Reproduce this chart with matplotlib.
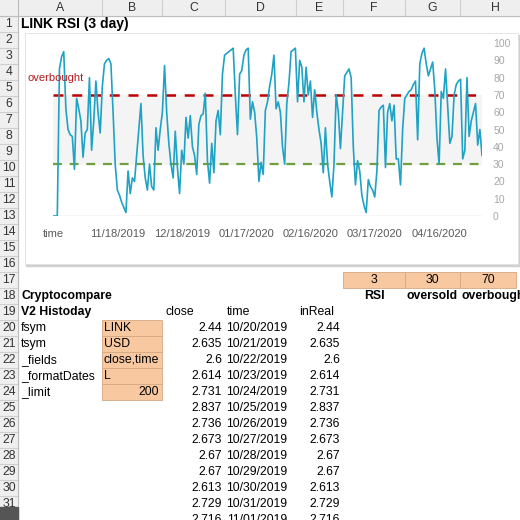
import numpy as np
import pandas as pd
import matplotlib
matplotlib.use("Agg")
import matplotlib.pyplot as plt
from matplotlib.patches import Rectangle

plt.rcParams['font.family'] = ['Liberation Sans', 'DejaVu Sans']

# --- data ---
rsi = [0, 0, 0, 85, 92, 95, 62, 50, 47, 46, 27, 68, 62, 55, 34, 48, 50, 80, 38, 55,
       78, 60, 48, 75, 88, 90, 91, 88, 60, 30, 15, 12, 8, 5, 2, 26, 13, 22, 20, 35,
       50, 65, 35, 22, 15, 30, 17, 15, 51, 38, 50, 60, 87, 60, 42, 30, 22, 49, 28, 13,
       38, 30, 57, 45, 58, 40, 35, 24, 53, 58, 59, 71, 32, 19, 42, 25, 55, 61, 47, 82,
       93, 94, 95, 96, 97, 70, 47, 82, 84, 93, 96, 97, 56, 66, 60, 45, 20, 31, 24, 61,
       66, 75, 82, 93, 62, 66, 60, 40, 30, 65, 77, 95, 96, 97, 66, 90, 86, 66, 86, 70,
       78, 57, 73, 60, 50, 42, 25, 51, 30, 20, 11, 30, 70, 60, 39, 60, 81, 83, 85, 80,
       40, 18, 32, 26, 12, 6, 2, 21, 17, 15, 11, 26, 61, 63, 64, 28, 60, 65, 55, 64,
       33, 33, 18, 50, 68, 70, 72, 73, 76, 78, 44, 88, 94, 97, 88, 81, 85, 89, 73, 45,
       30, 72, 68, 85, 63, 42, 46, 70, 76, 78, 79, 33, 38, 80, 46, 55, 60, 65, 41, 50, 35]
dates = pd.date_range("2019-10-20", periods=200, freq="D").strftime("%m/%d/%Y").tolist()
categories = ["time"] + dates
closes = [2.44, 2.635, 2.6, 2.614, 2.731, 2.837, 2.736, 2.673, 2.67, 2.67, 2.613, 2.729, 2.716]
close_dates = ["10/20/2019", "10/21/2019", "10/22/2019", "10/23/2019", "10/24/2019",
               "10/25/2019", "10/26/2019", "10/27/2019", "10/28/2019", "10/29/2019",
               "10/30/2019", "10/31/2019", "11/01/2019"]
params = [("fsym", "LINK"), ("tsym", "USD"), ("_fields", "close,time"),
          ("_formatDates", "L"), ("_limit", "200")]
thresholds = [("3", "RSI"), ("30", "oversold"), ("70", "overbought")]
oversold, overbought = 30, 70

W = H = 520
fig = plt.figure(figsize=(5.2, 5.2), dpi=100)
sheet = fig.add_axes([0, 0, 1, 1])
sheet.set_xlim(0, W)
sheet.set_ylim(H, 0)
sheet.axis('off')

col_edges = [18, 102, 162, 225, 296, 343, 405, 460, 530]
col_names = list("ABCDEFGH")
grid_c = '#cfcfcf'
orange = '#f8c8a0'
fs = 8.8

def cy(r):
    return 16 * r + 8

# headers (only the header bands show grid lines)
sheet.add_patch(Rectangle((0, 0), W, 16, color='#efefef', zorder=0))
sheet.add_patch(Rectangle((0, 0), 18, H, color='#efefef', zorder=0))
for x in col_edges:
    sheet.plot([x, x], [0, 16], color=grid_c, lw=0.8, zorder=1)
for r in range(1, 34):
    sheet.plot([0, 18], [16 * r, 16 * r], color=grid_c, lw=0.8, zorder=1)
for i, n in enumerate(col_names):
    sheet.text((col_edges[i] + col_edges[i + 1]) / 2, 8, n, ha='center', va='center', fontsize=fs, color='#333333')
for r in range(1, 33):
    sheet.text(9, cy(r), str(r), ha='center', va='center', fontsize=fs, color='#333333')
sheet.plot([18, 18], [0, H], color='#bdbdbd', lw=0.8)
sheet.plot([0, W], [16, 16], color='#bdbdbd', lw=0.8)

sheet.text(21, cy(1), "LINK RSI (3 day)", fontsize=10, fontweight='bold', va='center', zorder=2)

# spreadsheet cells
sheet.text(21, cy(18), "Cryptocompare", fontsize=fs, fontweight='bold', va='center')
sheet.text(21, cy(19), "V2 Histoday", fontsize=fs, fontweight='bold', va='center')
sheet.text(165, cy(19), "close", fontsize=fs, va='center')
sheet.text(227, cy(19), "time", fontsize=fs, va='center')
sheet.text(299, cy(19), "inReal", fontsize=fs, va='center')
for k, (name, val) in enumerate(params):
    r = 20 + k
    sheet.add_patch(Rectangle((102, 16 * r), 60, 16, facecolor=orange, edgecolor='#d4a882', lw=0.6, zorder=2))
    sheet.text(21, cy(r), name, fontsize=fs, va='center', zorder=3)
    if val.isdigit():
        sheet.text(159, cy(r), val, fontsize=fs, va='center', ha='right', zorder=3)
    else:
        sheet.text(104, cy(r), val, fontsize=fs, va='center', zorder=3)
for k, (c, d) in enumerate(zip(closes, close_dates)):
    r = 20 + k
    sheet.text(222, cy(r), f"{c:g}", fontsize=fs, va='center', ha='right')
    sheet.text(287, cy(r), d, fontsize=fs, va='center', ha='right')
    sheet.text(340, cy(r), f"{c:g}", fontsize=fs, va='center', ha='right')
for k, (v, lab) in enumerate(thresholds):
    x0, x1 = col_edges[5 + k], min(col_edges[6 + k], 516)
    sheet.add_patch(Rectangle((x0, 16 * 17), x1 - x0, 16, facecolor=orange, edgecolor='#d4a882', lw=0.6, zorder=2))
    sheet.text((x0 + x1) / 2, cy(17), v, fontsize=fs, va='center', ha='center', zorder=3)
    sheet.text((x0 + x1) / 2 if k < 2 else 462, cy(18), lab, fontsize=fs, fontweight='bold',
               va='center', ha='center' if k < 2 else 'left', clip_on=True)
sheet.add_patch(Rectangle((0, 507), 18, 13, color='#555555', zorder=3))

# chart area
sheet.add_patch(Rectangle((26, 35), 493, 231, color='#d0d0d0', zorder=3))
sheet.add_patch(Rectangle((25, 33), 493, 231, facecolor='white', edgecolor='#e0e0e0', lw=0.6, zorder=4))

ax = fig.add_axes([53 / W, 1 - 216 / H, (482 - 53) / W, (216 - 43) / H], zorder=5)
ax.patch.set_alpha(0)
x = np.arange(len(categories))
ax.axhspan(oversold, overbought, color='#f4f4f4', zorder=0)
ax.plot(x, rsi, color='#1fa2c4', lw=1.2, zorder=3)
ax.axhline(overbought, color='#c00000', ls=(0, (4, 3.5)), lw=1.8, zorder=2)
ax.axhline(oversold, color='#70a040', ls=(0, (4, 3.5)), lw=1.6, zorder=2)
ax.set_xlim(0, len(categories) - 1)
ax.set_ylim(0, 100)
for s in ax.spines.values():
    s.set_visible(False)
ax.axhline(0, color='#d9d9d9', lw=1, zorder=1)
ax.yaxis.tick_right()
ax.set_yticks(range(0, 101, 10))
ax.tick_params(axis='y', length=0, labelsize=7.5, labelcolor='#a6a6a6', pad=8)
ax.set_xticks(x[::30])
ax.set_xticklabels(categories[::30])
ax.tick_params(axis='x', length=0, labelsize=8, labelcolor='#595959', pad=9)
ax.text(-0.06, 80, "overbought", transform=ax.get_yaxis_transform(), color='#b01c1c',
        fontsize=8, ha='left', va='center', clip_on=False)

fig.savefig("out.png", dpi=100)
